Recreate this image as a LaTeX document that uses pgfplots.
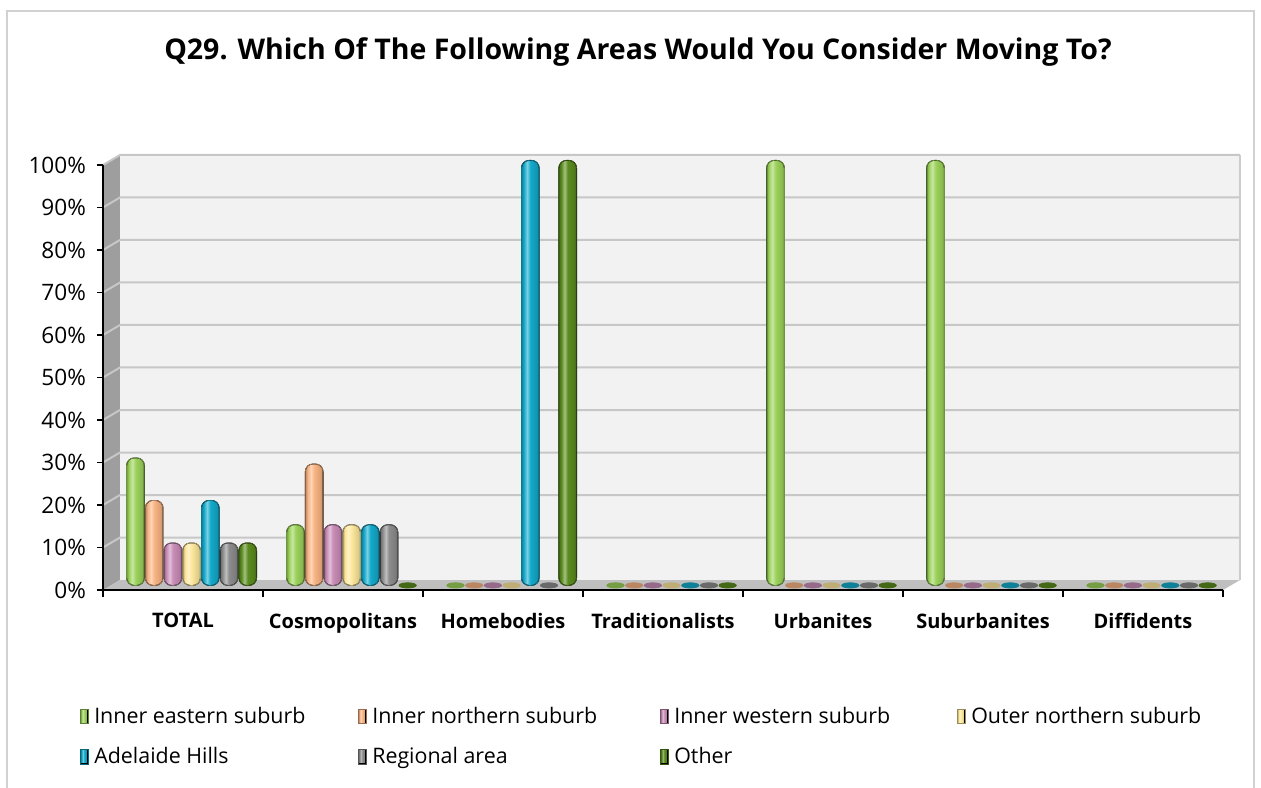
\documentclass[border=0pt]{standalone}
\usepackage{fontspec}
\setmainfont{Open Sans}
\usepackage{pgfplots}
\pgfplotsset{compat=1.18}
\usepackage{pgfplotstable}

\definecolor{cIE}{HTML}{9CD35B}
\definecolor{cIN}{HTML}{F9B483}
\definecolor{cIW}{HTML}{C98DB8}
\definecolor{cON}{HTML}{FDE79C}
\definecolor{cAH}{HTML}{14AACB}
\definecolor{cRA}{HTML}{8C8C8C}
\definecolor{cOT}{HTML}{5B8C1E}
\colorlet{barc}{cIE}

\pgfdeclarehorizontalshading[barc]{cylinder}{100bp}{%
  color(0bp)=(barc!75!black); color(25bp)=(barc!75!black); color(32bp)=(barc);
  color(41bp)=(barc!55!white); color(50bp)=(barc); color(68bp)=(barc!88!black);
  color(75bp)=(barc!72!black); color(100bp)=(barc!72!black)}
\pgfdeclareplotmark{emptymark}{}

\pgfplotstableread{
x IE IN IW ON AH RA OT
0 30 20 10 10 20 10 10
1 14.29 28.57 14.29 14.29 14.29 14.29 0
2 0 0 0 0 100 0 100
3 0 0 0 0 0 0 0
4 100 0 0 0 0 0 0
5 100 0 0 0 0 0 0
6 0 0 0 0 0 0 0
}\datatable

\pgfplotsset{
  cylbase/.style={
    scatter, only marks, mark=emptymark,
    scatter/@pre marker code/.code={%
      \colorlet{barc}{\barcol}%
      \pgfmathsetlengthmacro\hh{\yval*2.125}%
      \pgfmathsetlengthmacro\xl{\xoff-4.45}%
      \pgfmathsetlengthmacro\xr{\xoff+4.45}%
      \pgfmathsetlengthmacro\yb{2.3-\yval*2.125}%
      \ifdim\hh>0.5pt
        \shade[shading=cylinder, rounded corners=3.8pt] (\xl,\yb) rectangle (\xr,2.3pt);
        \draw[barc!70!black, line width=0.35pt, rounded corners=3.8pt] (\xl,\yb) rectangle (\xr,2.3pt);
      \else
        \fill[barc!75!black] (\xoff pt,2.3pt) ellipse (4.3pt and 1.3pt);
      \fi
    },
    scatter/@post marker code/.code={},
  },
  cyl/.style 2 args={
    cylbase,
    visualization depends on={value #1\as\barcol},
    visualization depends on={value #2\as\xoff},
    legend image code/.code={%
      \colorlet{barc}{#1}%
      \shade[shading=cylinder] (0pt,-3.6pt) rectangle (3.6pt,3.6pt);
      \draw[#1!60!black, line width=0.35pt] (0pt,-3.6pt) rectangle (3.6pt,3.6pt);}
  }
}

\begin{document}
\begin{tikzpicture}
\useasboundingbox (0pt,0pt) rectangle (630.5pt,393.5pt);
\draw[line width=1.2pt, color=black!18] (3.5pt,-5pt) -- (3.5pt,388pt) -- (627pt,388pt) -- (627pt,-5pt);
\node[font=\bfseries\fontsize{14.25}{17}\selectfont] at (319pt,367.5pt) {Q29. Which Of The Following Areas Would You Consider Moving To?};
\begin{axis}[
  at={(51.5pt,98.5pt)}, anchor=south west,
  scale only axis, width=560pt, height=212.5pt,
  xmin=-0.5, xmax=6.5, ymin=0, ymax=100,
  clip=false, axis on top,
  axis x line*=bottom, axis y line*=left,
  axis line style={-, draw=black, line width=0.9pt},
  ytick={0,10,...,100},
  yticklabel={\pgfmathprintnumber{\tick}\%},
  /pgf/number format/assume math mode=true,
  yticklabel style={font=\fontsize{11.3}{13}\selectfont, xshift=-2pt},
  xtick={0,...,6},
  xticklabels={TOTAL,Cosmopolitans,Homebodies,Traditionalists,Urbanites,Suburbanites,Diffidents},
  xticklabel style={font=\bfseries\fontsize{10}{12}\selectfont, yshift=-5pt},
  minor xtick={-0.5,0.5,...,6.5},
  major x tick style={draw=none},
  tick align=outside,
  major tick length=3pt, minor tick length=3.5pt,
  tick style={black, line width=0.6pt},
  legend columns=4,
  legend cell align=left,
  legend style={at={(axis description cs:-0.026,-0.255)}, anchor=north west, draw=none, fill=none,
    font=\fontsize{10.7}{13}\selectfont,
    /tikz/every odd column/.append style={column sep=1pt},
    row sep=6.5pt},
]
% 3D walls
\fill[black!5] ([shift={(8.5pt,5pt)}]axis cs:-0.5,0) rectangle ([shift={(8.5pt,5pt)}]axis cs:6.5,100);
\fill[black!38] (axis cs:-0.5,0) -- ([shift={(8.5pt,5pt)}]axis cs:-0.5,0) -- ([shift={(8.5pt,5pt)}]axis cs:-0.5,100) -- (axis cs:-0.5,100) -- cycle;
\fill[black!25] (axis cs:-0.5,0) -- (axis cs:6.5,0) -- ([shift={(8.5pt,5pt)}]axis cs:6.5,0) -- ([shift={(8.5pt,5pt)}]axis cs:-0.5,0) -- cycle;
\pgfplotsinvokeforeach{10,20,...,100}{
  \draw[black!22, line width=1pt] (axis cs:-0.5,#1) -- ([shift={(8.5pt,5pt)}]axis cs:-0.5,#1) -- ([shift={(8.5pt,5pt)}]axis cs:6.5,#1);
}
\draw[black!20, line width=0.6pt] ([shift={(8.5pt,5pt)}]axis cs:6.5,0) -- ([shift={(8.5pt,5pt)}]axis cs:6.5,100);

\addplot[cyl={cIE}{-23.75}, visualization depends on={\thisrow{IE}\as\yval}] table[x=x,y=IE] {\datatable};
\addplot[cyl={cIN}{-14.4}, visualization depends on={\thisrow{IN}\as\yval}] table[x=x,y=IN] {\datatable};
\addplot[cyl={cIW}{-5.05}, visualization depends on={\thisrow{IW}\as\yval}] table[x=x,y=IW] {\datatable};
\addplot[cyl={cON}{4.3}, visualization depends on={\thisrow{ON}\as\yval}] table[x=x,y=ON] {\datatable};
\addplot[cyl={cAH}{13.65}, visualization depends on={\thisrow{AH}\as\yval}] table[x=x,y=AH] {\datatable};
\addplot[cyl={cRA}{23}, visualization depends on={\thisrow{RA}\as\yval}] table[x=x,y=RA] {\datatable};
\addplot[cyl={cOT}{32.35}, visualization depends on={\thisrow{OT}\as\yval}] table[x=x,y=OT] {\datatable};
\legend{\makebox[130pt][l]{Inner eastern suburb},\makebox[142pt][l]{Inner northern suburb},\makebox[139.5pt][l]{Inner western suburb},Outer northern suburb,Adelaide Hills,Regional area,Other}
\end{axis}
\end{tikzpicture}
\end{document}
